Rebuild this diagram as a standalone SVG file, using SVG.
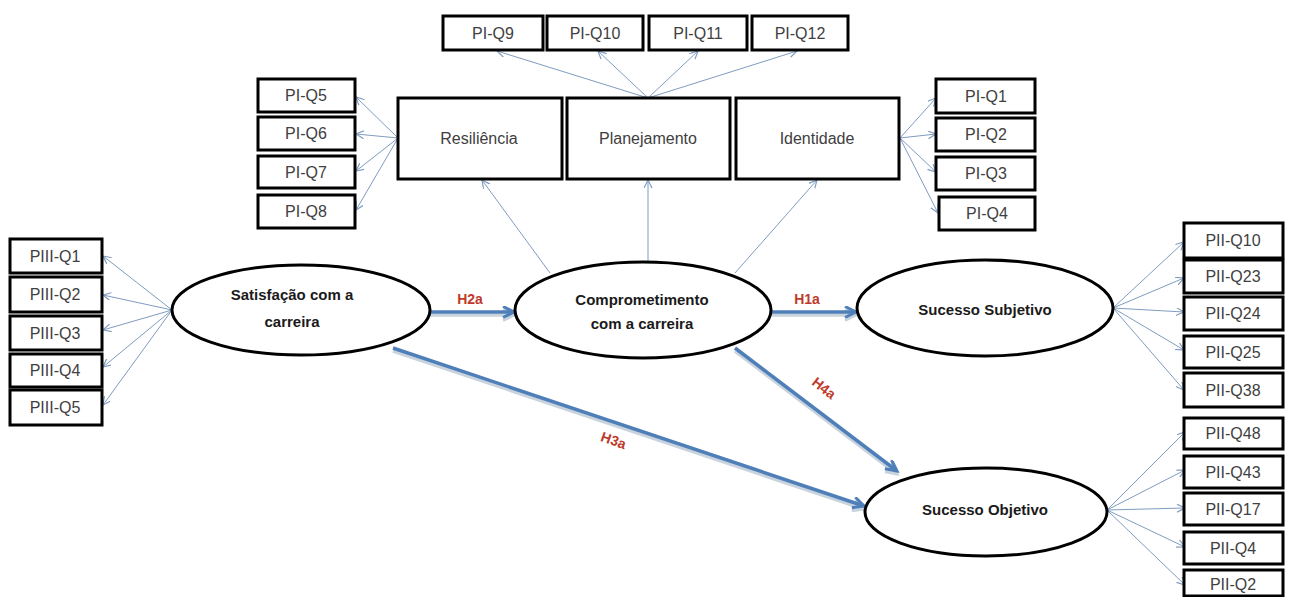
<svg xmlns="http://www.w3.org/2000/svg" width="1291" height="597" viewBox="0 0 1291 597">
<defs>
<marker id="thin" markerWidth="10" markerHeight="10" refX="8" refY="4" orient="auto" markerUnits="userSpaceOnUse">
<path d="M0,0 L8,4 L0,8" fill="none" stroke="#7f9cc0" stroke-width="1.2"/>
</marker>
<marker id="thick" markerWidth="16" markerHeight="16" refX="12" refY="6" orient="auto" markerUnits="userSpaceOnUse">
<path d="M1,0.5 L12,6 L1,11.5" fill="none" stroke="#4f7fb8" stroke-width="3" stroke-linejoin="miter"/>
</marker>
<marker id="shadowm" markerWidth="16" markerHeight="16" refX="12" refY="6" orient="auto" markerUnits="userSpaceOnUse">
<path d="M1,0.5 L12,6 L1,11.5" fill="none" stroke="#c9d3de" stroke-width="3"/>
</marker>
</defs>
<style>
.box{fill:#fff;stroke:#000;stroke-width:3}
.ell{fill:#fff;stroke:#000;stroke-width:3}
.lbl{font-family:"Liberation Sans",Arial,sans-serif;font-size:16px;fill:#404040;text-anchor:middle}
.big{font-family:"Liberation Sans",Arial,sans-serif;font-size:16px;fill:#404040;text-anchor:middle}
.bold{font-family:"Liberation Sans",Arial,sans-serif;font-size:15px;font-weight:bold;fill:#1a1a1a;text-anchor:middle}
.h{font-family:"Liberation Sans",Arial,sans-serif;font-size:14px;font-weight:bold;fill:#c0392b;text-anchor:middle}
.t{stroke:#7f9cc0;stroke-width:1;fill:none;marker-end:url(#thin)}
.k{stroke:#4f7fb8;stroke-width:3.5;fill:none;marker-end:url(#thick)}
.s{stroke:#c9d3de;stroke-width:3.5;fill:none;marker-end:url(#shadowm)}
</style>
<rect width="1291" height="597" fill="#fff"/>
<g id="connectors">
<g id="shadows">
<line class="s" x1="430" y1="315" x2="514" y2="315"/>
<line class="s" x1="772" y1="315" x2="856" y2="315"/>
<line class="s" x1="393" y1="351" x2="864" y2="509"/>
<line class="s" x1="735" y1="351" x2="897" y2="474"/>
</g>
<line class="t" x1="172" y1="310" x2="103" y2="256"/>
<line class="t" x1="172" y1="310" x2="103" y2="295"/>
<line class="t" x1="172" y1="310" x2="103" y2="330"/>
<line class="t" x1="172" y1="310" x2="103" y2="367"/>
<line class="t" x1="172" y1="310" x2="103" y2="405"/>
<line class="t" x1="398" y1="138" x2="356" y2="97"/>
<line class="t" x1="398" y1="138" x2="356" y2="134"/>
<line class="t" x1="398" y1="138" x2="356" y2="171"/>
<line class="t" x1="398" y1="138" x2="356" y2="210"/>
<line class="t" x1="648" y1="98" x2="497" y2="51"/>
<line class="t" x1="648" y1="98" x2="598" y2="51"/>
<line class="t" x1="648" y1="98" x2="698" y2="51"/>
<line class="t" x1="648" y1="98" x2="797" y2="51"/>
<line class="t" x1="900" y1="138" x2="936" y2="98"/>
<line class="t" x1="900" y1="138" x2="936" y2="134"/>
<line class="t" x1="900" y1="138" x2="936" y2="172"/>
<line class="t" x1="900" y1="138" x2="938" y2="213"/>
<line class="t" x1="550" y1="273" x2="482" y2="180"/>
<line class="t" x1="648" y1="262" x2="648" y2="180"/>
<line class="t" x1="735" y1="273" x2="817" y2="180"/>
<line class="t" x1="1113" y1="308" x2="1184" y2="242"/>
<line class="t" x1="1113" y1="308" x2="1184" y2="278"/>
<line class="t" x1="1113" y1="308" x2="1184" y2="312"/>
<line class="t" x1="1113" y1="308" x2="1184" y2="350"/>
<line class="t" x1="1113" y1="308" x2="1184" y2="390"/>
<line class="t" x1="1107" y1="510" x2="1185" y2="432"/>
<line class="t" x1="1107" y1="510" x2="1185" y2="470"/>
<line class="t" x1="1107" y1="510" x2="1185" y2="508"/>
<line class="t" x1="1107" y1="510" x2="1185" y2="547"/>
<line class="t" x1="1107" y1="510" x2="1185" y2="585"/>
<line class="k" x1="430" y1="312" x2="514" y2="312"/>
<line class="k" x1="772" y1="312" x2="856" y2="312"/>
<line class="k" x1="393" y1="348" x2="864" y2="506"/>
<line class="k" x1="735" y1="348" x2="897" y2="471"/>
<text class="h" x="470" y="304">H2a</text>
<text class="h" x="807" y="304">H1a</text>
<text class="h" transform="translate(612,445) rotate(19)">H3a</text>
<text class="h" transform="translate(821,392) rotate(38)">H4a</text>
</g>
<g id="PI-Q9"><rect class="box" x="443" y="16" width="100" height="34"/><text class="lbl" x="493" y="39">PI-Q9</text></g>
<g id="PI-Q10"><rect class="box" x="547" y="16" width="96" height="34"/><text class="lbl" x="595" y="39">PI-Q10</text></g>
<g id="PI-Q11"><rect class="box" x="649" y="16" width="98" height="34"/><text class="lbl" x="698" y="39">PI-Q11</text></g>
<g id="PI-Q12"><rect class="box" x="752" y="16" width="96" height="34"/><text class="lbl" x="800" y="39">PI-Q12</text></g>
<g id="PI-Q5"><rect class="box" x="258" y="79" width="97" height="33"/><text class="lbl" x="306" y="101">PI-Q5</text></g>
<g id="PI-Q6"><rect class="box" x="258" y="117" width="97" height="33"/><text class="lbl" x="306" y="139">PI-Q6</text></g>
<g id="PI-Q7"><rect class="box" x="258" y="156" width="97" height="32"/><text class="lbl" x="306" y="178">PI-Q7</text></g>
<g id="PI-Q8"><rect class="box" x="258" y="195" width="97" height="33"/><text class="lbl" x="306" y="217">PI-Q8</text></g>
<g id="Resiliencia"><rect class="box" x="398" y="98" width="164" height="81"/><text class="big" x="479" y="144">Resiliência</text></g>
<g id="Planejamento"><rect class="box" x="567" y="98" width="163" height="81"/><text class="big" x="648" y="144">Planejamento</text></g>
<g id="Identidade"><rect class="box" x="736" y="98" width="163" height="81"/><text class="big" x="817" y="144">Identidade</text></g>
<g id="PI-Q1"><rect class="box" x="936" y="79" width="99" height="34"/><text class="lbl" x="986" y="102">PI-Q1</text></g>
<g id="PI-Q2"><rect class="box" x="936" y="118" width="99" height="33"/><text class="lbl" x="986" y="140">PI-Q2</text></g>
<g id="PI-Q3"><rect class="box" x="936" y="157" width="99" height="33"/><text class="lbl" x="986" y="179">PI-Q3</text></g>
<g id="PI-Q4"><rect class="box" x="939" y="197" width="96" height="33"/><text class="lbl" x="987" y="219">PI-Q4</text></g>
<g id="PIII-Q1"><rect class="box" x="10" y="239" width="92" height="34"/><text class="lbl" x="55" y="262">PIII-Q1</text></g>
<g id="PIII-Q2"><rect class="box" x="10" y="277" width="92" height="35"/><text class="lbl" x="55" y="300">PIII-Q2</text></g>
<g id="PIII-Q3"><rect class="box" x="10" y="316" width="92" height="34"/><text class="lbl" x="55" y="339">PIII-Q3</text></g>
<g id="PIII-Q4"><rect class="box" x="10" y="354" width="92" height="33"/><text class="lbl" x="55" y="376">PIII-Q4</text></g>
<g id="PIII-Q5"><rect class="box" x="10" y="390" width="92" height="35"/><text class="lbl" x="55" y="413">PIII-Q5</text></g>
<g id="Satisfacao"><ellipse class="ell" cx="301" cy="310" rx="129" ry="45"/><text class="bold" x="292" y="300">Satisfação com a</text><text class="bold" x="292" y="327">carreira</text></g>
<g id="Comprometimento"><ellipse class="ell" cx="643" cy="310" rx="128" ry="48"/><text class="bold" x="642" y="305">Comprometimento</text><text class="bold" x="642" y="329">com a carreira</text></g>
<g id="SucessoSubjetivo"><ellipse class="ell" cx="985" cy="308" rx="128" ry="48"/><text class="bold" x="985" y="315">Sucesso Subjetivo</text></g>
<g id="SucessoObjetivo"><ellipse class="ell" cx="986" cy="512" rx="121" ry="44"/><text class="bold" x="985" y="515">Sucesso Objetivo</text></g>
<g id="PII-Q10"><rect class="box" x="1184" y="223" width="99" height="35"/><text class="lbl" x="1233" y="246">PII-Q10</text></g>
<g id="PII-Q23"><rect class="box" x="1184" y="260" width="99" height="33"/><text class="lbl" x="1233" y="282">PII-Q23</text></g>
<g id="PII-Q24"><rect class="box" x="1184" y="297" width="99" height="33"/><text class="lbl" x="1233" y="319">PII-Q24</text></g>
<g id="PII-Q25"><rect class="box" x="1184" y="336" width="99" height="32"/><text class="lbl" x="1233" y="358">PII-Q25</text></g>
<g id="PII-Q38"><rect class="box" x="1184" y="373" width="99" height="34"/><text class="lbl" x="1233" y="396">PII-Q38</text></g>
<g id="PII-Q48"><rect class="box" x="1184" y="418" width="99" height="31"/><text class="lbl" x="1233" y="439">PII-Q48</text></g>
<g id="PII-Q43"><rect class="box" x="1184" y="456" width="99" height="32"/><text class="lbl" x="1233" y="478">PII-Q43</text></g>
<g id="PII-Q17"><rect class="box" x="1184" y="493" width="99" height="32"/><text class="lbl" x="1233" y="515">PII-Q17</text></g>
<g id="PII-Q4"><rect class="box" x="1184" y="532" width="99" height="32"/><text class="lbl" x="1233" y="554">PII-Q4</text></g>
<g id="PII-Q2"><rect class="box" x="1184" y="570" width="99" height="26"/><text class="lbl" x="1233" y="590">PII-Q2</text></g>
</svg>
